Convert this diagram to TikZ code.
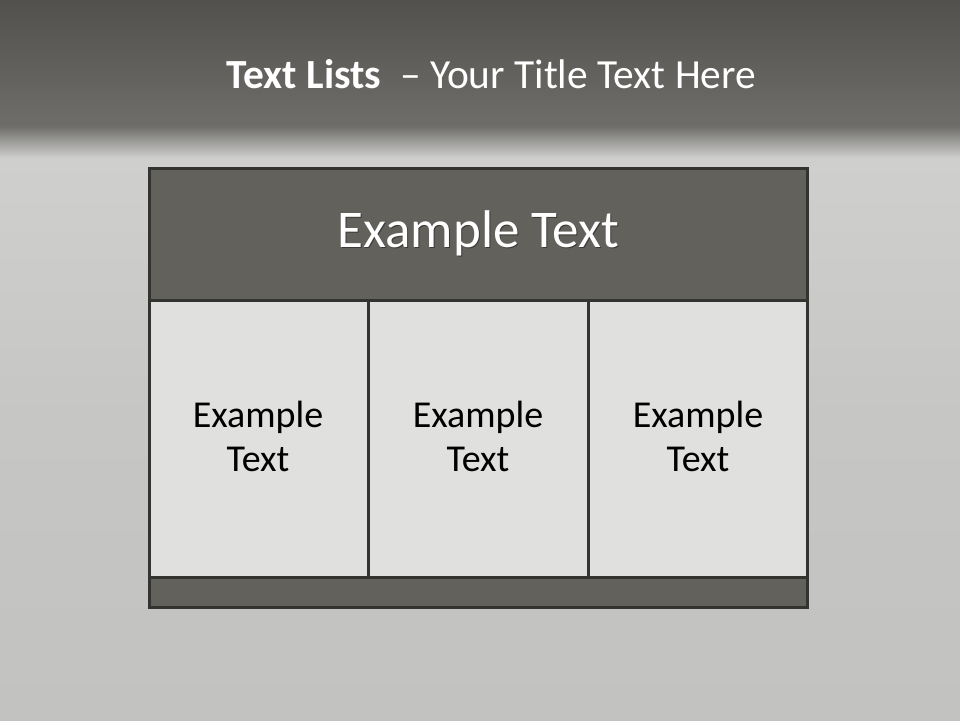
\documentclass[tikz,border=0pt]{standalone}
\usepackage{fontspec}
\setmainfont{Carlito}
\definecolor{bgtop}{HTML}{52514D}
\definecolor{bgband}{HTML}{6E6D69}
\definecolor{bglight}{HTML}{CFCFCE}
\definecolor{bgmid}{HTML}{C6C6C5}
\definecolor{bglow}{HTML}{C2C2C1}
\definecolor{hdrfill}{HTML}{62615B}
\definecolor{cellfill}{HTML}{E0E0DE}
\definecolor{edge}{HTML}{333330}
\tikzset{
  box/.style={draw=edge, line width=3pt, inner sep=0pt, outer sep=0pt},
  hdrbox/.style={box, fill=hdrfill},
  cellbox/.style={box, fill=cellfill},
  celltext/.style={anchor=base, align=center, font=\fontsize{38}{44}\selectfont, text=black, inner sep=0pt},
}
\begin{document}
\begin{tikzpicture}[x=1pt,y=-1pt]
\useasboundingbox (0,0) rectangle (960,720);
% background
\fill[bglow] (0,0) rectangle (960,720);
\shade[top color=bgtop, bottom color=bgband] (0,0) rectangle (960,126);
\shade[top color=bgband, bottom color=bglight] (0,126) rectangle (960,158);
\shade[top color=bglight, bottom color=bgmid] (0,158) rectangle (960,420);
\shade[top color=bgmid, bottom color=bglow] (0,420) rectangle (960,720);
% title
\node[anchor=base, text=white, inner sep=0pt, font=\fontsize{41.4}{50}\selectfont] (title) at (491.5,88)
  {\textbf{Text Lists}\ \ – Your Title Text Here};
% table
\node[hdrbox, minimum width=658pt, minimum height=131.5pt] (head) at (478.5,234.25) {};
\node[cellbox, minimum width=219pt, minimum height=277pt] (c1) at (259,438.5) {};
\node[cellbox, minimum width=220pt, minimum height=277pt] (c2) at (478.25,438.5) {};
\node[cellbox, minimum width=219.5pt, minimum height=277pt] (c3) at (697.75,438.5) {};
\node[hdrbox, minimum width=658pt, minimum height=30.5pt] (foot) at (478.5,592.25) {};
% header text
\node[anchor=base, text=black, opacity=0.4, inner sep=0pt, font=\fontsize{53}{60}\selectfont] (headshadow) at (479.5,248) {Example Text};
\node[anchor=base, text=white, inner sep=0pt, font=\fontsize{53}{60}\selectfont] (headtext) at (478.5,247) {Example Text};
% cell texts
\node[celltext] (t1) at (258,471) {Example\\Text};
\node[celltext] (t2) at (478,471) {Example\\Text};
\node[celltext] (t3) at (698,471) {Example\\Text};
\end{tikzpicture}
\end{document}
